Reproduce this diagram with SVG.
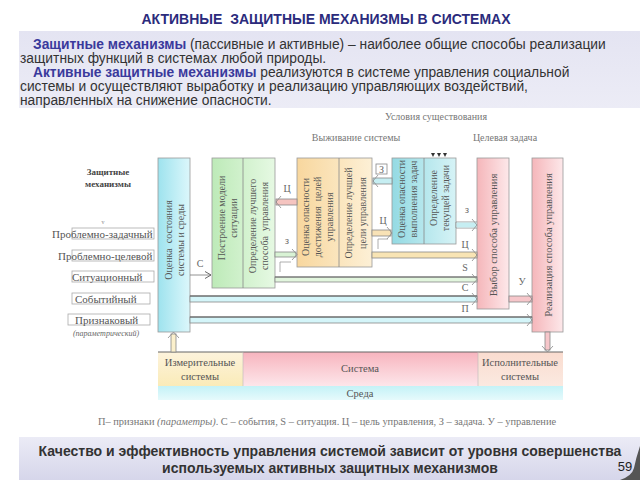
<svg xmlns="http://www.w3.org/2000/svg" width="640" height="480" viewBox="0 0 640 480">
<defs>
<linearGradient id="gCyan" x1="0" y1="0" x2="1" y2="0"><stop offset="0" stop-color="#9ee3ee"/><stop offset="1" stop-color="#dcf7fb"/></linearGradient>
<linearGradient id="gGreen" x1="0" y1="0" x2="1" y2="0"><stop offset="0" stop-color="#bdeab8"/><stop offset="1" stop-color="#e6f9e3"/></linearGradient>
<linearGradient id="gOrange" x1="0" y1="0" x2="1" y2="0"><stop offset="0" stop-color="#f8d79e"/><stop offset="1" stop-color="#fdf0d6"/></linearGradient>
<linearGradient id="gCyan2" x1="0" y1="0" x2="1" y2="0"><stop offset="0" stop-color="#94dae3"/><stop offset="1" stop-color="#d6f3f6"/></linearGradient>
<linearGradient id="gPink" x1="0" y1="0" x2="1" y2="0"><stop offset="0" stop-color="#f5b6ba"/><stop offset="1" stop-color="#fde8ea"/></linearGradient>
<linearGradient id="gYel" x1="0" y1="0" x2="0" y2="1"><stop offset="0" stop-color="#fdf3dc"/><stop offset="1" stop-color="#faebb8"/></linearGradient>
<linearGradient id="gSys" x1="0" y1="0" x2="0" y2="1"><stop offset="0" stop-color="#f7b4be"/><stop offset="1" stop-color="#fde6ea"/></linearGradient>
<linearGradient id="gIsp" x1="0" y1="0" x2="0" y2="1"><stop offset="0" stop-color="#fadccf"/><stop offset="1" stop-color="#fbe9e0"/></linearGradient>
<linearGradient id="gEnv" x1="0" y1="0" x2="0" y2="1"><stop offset="0" stop-color="#c4f2f7"/><stop offset="1" stop-color="#e6fafc"/></linearGradient>
<linearGradient id="gTop" x1="0" y1="0" x2="0" y2="1"><stop offset="0" stop-color="#e4e4f2"/><stop offset="1" stop-color="#ececf6"/></linearGradient>
<linearGradient id="gBot" x1="0" y1="0" x2="0" y2="1"><stop offset="0" stop-color="#ebebf6"/><stop offset="1" stop-color="#d6d6ea"/></linearGradient>
<marker id="ah" viewBox="0 0 8 8" refX="7" refY="4" markerWidth="8" markerHeight="8" markerUnits="userSpaceOnUse" orient="auto">
<path d="M1,0.5 L7,4 L1,7.5" fill="none" stroke="#666" stroke-width="1"/>
</marker>
</defs>
<style>
.title{font-family:"Liberation Sans",Arial,sans-serif;font-weight:bold;font-size:14px;fill:#2b2b7c}
.para{font-family:"Liberation Sans",Arial,sans-serif;font-size:13.8px;fill:#333}
.em{fill:#3a3a9c;font-weight:bold}
.foot{font-family:"Liberation Sans",Arial,sans-serif;font-weight:bold;font-size:14px;fill:#333}
.vt{font-family:"Liberation Serif","Times New Roman",serif;font-size:10px;fill:#555}
.bt{font-family:"Liberation Serif","Times New Roman",serif;font-size:10.5px;fill:#555}
.sm{font-family:"Liberation Serif","Times New Roman",serif;font-size:10px;fill:#777}
.lst{font-family:"Liberation Serif","Times New Roman",serif;font-size:11px;fill:#555}
.box{stroke:#999;stroke-width:0.8}
.lb{fill:none;stroke:#aaa;stroke-width:0.8}
.lbl{font-family:"Liberation Serif","Times New Roman",serif;font-size:10px;fill:#666;text-anchor:middle}
.pipe{stroke:#888;stroke-width:0.8}
</style>
<rect width="640" height="480" fill="#fff"/>

<text class="title" x="326" y="24" text-anchor="middle" xml:space="preserve">АКТИВНЫЕ  ЗАЩИТНЫЕ МЕХАНИЗМЫ В СИСТЕМАХ</text>

<g id="intro">
<rect x="19" y="31" width="621" height="77" fill="url(#gTop)"/>
<text class="para" x="33" y="49"><tspan class="em">Защитные механизмы</tspan> (пассивные и активные) – наиболее общие способы реализации</text>
<text class="para" x="20" y="63">защитных функций в системах любой природы.</text>
<text class="para" x="33" y="77"><tspan class="em">Активные защитные механизмы</tspan> реализуются в системе управления социальной</text>
<text class="para" x="20" y="91">системы и осуществляют выработку и реализацию управляющих воздействий,</text>
<text class="para" x="20" y="105">направленных на снижение опасности.</text>
</g>

<g id="headers">
<text class="sm" x="436" y="120" text-anchor="middle">Условия существования</text>
<text class="sm" x="356" y="141" text-anchor="middle">Выживание системы</text>
<text class="sm" x="505" y="141" text-anchor="middle">Целевая задача</text>
</g>

<g id="mechanisms">
<text x="108" y="175" text-anchor="middle" style="font-family:'Liberation Serif',serif;font-size:9px;font-weight:bold;fill:#444">Защитные</text>
<text x="108" y="187" text-anchor="middle" style="font-family:'Liberation Serif',serif;font-size:9px;font-weight:bold;fill:#444">механизмы</text>
<text x="103" y="224" text-anchor="middle" style="font-family:'Liberation Serif',serif;font-size:6px;fill:#888">v</text>
<rect class="lb" x="72" y="228" width="82" height="11"/>
<text class="lst" x="52" y="238">Проблемно-задачный</text>
<rect class="lb" x="72" y="250" width="82" height="11"/>
<text class="lst" x="58" y="260">Проблемно-целевой</text>
<rect class="lb" x="72" y="271" width="82" height="11"/>
<text class="lst" x="72" y="281">Ситуационный</text>
<rect class="lb" x="72" y="293" width="78" height="11"/>
<text class="lst" x="75" y="303">Событийный</text>
<rect class="lb" x="68" y="314" width="82" height="11"/>
<text class="lst" x="75" y="324">Признаковый</text>
<text x="106" y="336" text-anchor="middle" style="font-family:'Liberation Serif',serif;font-size:8px;font-style:italic;fill:#666">(параметрический)</text>
</g>

<g id="n-ocenka-sost">
<rect class="box" x="158" y="158" width="32" height="174" fill="url(#gCyan)"/>
<text class="vt" transform="translate(174,240) rotate(-90)" text-anchor="middle" xml:space="preserve"><tspan x="0" y="-2">Оценка  состояния</tspan><tspan x="0" y="10">системы и среды</tspan></text>
</g>

<g id="n-model">
<rect class="box" x="212" y="158" width="63" height="130" fill="url(#gGreen)"/>
<line x1="243" y1="158" x2="243" y2="288" stroke="#888" stroke-width="0.8"/>
<text class="vt" transform="translate(227.5,218) rotate(-90)" text-anchor="middle"><tspan x="0" y="-3">Построение модели</tspan><tspan x="0" y="9">ситуации</tspan></text>
<text class="vt" transform="translate(259,226) rotate(-90)" text-anchor="middle" xml:space="preserve"><tspan x="0" y="-3">Определение лучшего</tspan><tspan x="0" y="9">способа  управления</tspan></text>
</g>

<g id="n-cel">
<rect class="box" x="297" y="158" width="75" height="109" fill="url(#gOrange)"/>
<line x1="339" y1="158" x2="339" y2="267" stroke="#888" stroke-width="0.8"/>
<text class="vt" transform="translate(318,217) rotate(-90)" text-anchor="middle" xml:space="preserve"><tspan x="0" y="-9">Оценка опасности</tspan><tspan x="0" y="3">достижения  целей</tspan><tspan x="0" y="15">управления</tspan></text>
<text class="vt" transform="translate(355.5,213) rotate(-90)" text-anchor="middle"><tspan x="0" y="-4">Определение лучшей</tspan><tspan x="0" y="10">цели управления</tspan></text>
</g>

<g id="n-zadacha">
<rect class="box" x="392" y="158" width="64" height="86" fill="url(#gCyan2)"/>
<line x1="424" y1="158" x2="424" y2="244" stroke="#888" stroke-width="0.8"/>
<text class="vt" transform="translate(407.5,199) rotate(-90)" text-anchor="middle"><tspan x="0" y="-3">Оценка опасности</tspan><tspan x="0" y="9">выполнения задач</tspan></text>
<text class="vt" transform="translate(440,198) rotate(-90)" text-anchor="middle"><tspan x="0" y="-3">Определение</tspan><tspan x="0" y="9">текущей задачи</tspan></text>
<path d="M431,153 h4 l-2,4 z M437,153 h4 l-2,4 z M443,153 h4 l-2,4 z" fill="#333"/>
</g>

<g id="n-vybor">
<rect class="box" x="477" y="158" width="32" height="151" fill="url(#gPink)"/>
<text class="bt" transform="translate(493,235) rotate(-90)" text-anchor="middle"><tspan x="0" y="4">Выбор способа управления</tspan></text>
</g>

<g id="n-realiz">
<rect class="box" x="532" y="158" width="31" height="174" fill="url(#gPink)"/>
<text class="bt" transform="translate(547.5,245) rotate(-90)" text-anchor="middle"><tspan x="0" y="4">Реализация способа управления</tspan></text>
</g>

<g id="n-bottom">
<rect x="158" y="352" width="85" height="34" fill="url(#gYel)"/>
<rect x="243" y="352" width="235" height="34" fill="url(#gSys)"/>
<rect x="478" y="352" width="85" height="34" fill="url(#gIsp)"/>
<rect x="158" y="386" width="405" height="14" fill="url(#gEnv)"/>
<line x1="158" y1="352" x2="563" y2="352" stroke="#666" stroke-width="1.2"/>
<line x1="243" y1="352" x2="243" y2="386" stroke="#bbb" stroke-width="0.6"/>
<line x1="478" y1="352" x2="478" y2="386" stroke="#bbb" stroke-width="0.6"/>
<text class="bt" x="200" y="366" text-anchor="middle">Измерительные</text>
<text class="bt" x="200" y="380" text-anchor="middle">системы</text>
<text class="bt" x="360" y="372" text-anchor="middle">Система</text>
<text class="bt" x="520" y="366" text-anchor="middle">Исполнительные</text>
<text class="bt" x="520" y="380" text-anchor="middle">системы</text>
<text class="bt" x="360" y="397" text-anchor="middle">Среда</text>
</g>

<g id="connectors">
<line x1="190" y1="275" x2="211" y2="275" stroke="#777" stroke-width="0.8" marker-end="url(#ah)"/>
<text class="lbl" x="200" y="267">С</text>
<rect x="276" y="199" width="21" height="6" fill="#f5c4c0" class="pipe"/>
<path d="M281,196 L276,202 L281,208" fill="none" stroke="#888" stroke-width="0.8"/>
<text class="lbl" x="287" y="192">Ц</text>
<rect x="275" y="252" width="21" height="5" fill="#d8f2d4" class="pipe"/>
<path d="M292,249 L297,254.5 L292,260" fill="none" stroke="#888" stroke-width="0.8"/>
<text class="lbl" x="287" y="244">з</text>
<path d="M291,262 H280 V272" fill="none" stroke="#999" stroke-width="0.8"/>
<rect x="373" y="178" width="19" height="6" fill="#c6eef2" class="pipe"/>
<path d="M378,175 L373,181 L378,187" fill="none" stroke="#888" stroke-width="0.8"/>
<rect x="376" y="164" width="11" height="10" fill="#fff" stroke="#888" stroke-width="0.8"/>
<text class="lbl" x="381.5" y="172.5">З</text>
<rect x="372" y="230" width="19" height="6" fill="#f8e2b6" class="pipe"/>
<path d="M387,227 L392,233 L387,239" fill="none" stroke="#888" stroke-width="0.8"/>
<text class="lbl" x="383" y="224">Ц</text>
<path d="M388,239 H378 V249" fill="none" stroke="#999" stroke-width="0.8"/>
<path d="M456,222 H477 M456,228 H477 M456,222 V228" fill="none" stroke="#888" stroke-width="0.8"/>
<rect x="456.5" y="222.5" width="20" height="5" fill="#c6eef2"/>
<path d="M472,219 L477,225 L472,231" fill="none" stroke="#888" stroke-width="0.8"/>
<text class="lbl" x="467" y="213">з</text>
<rect x="372" y="252" width="105" height="6" fill="#f8e4b4" class="pipe"/>
<path d="M472,249 L477,255 L472,261" fill="none" stroke="#888" stroke-width="0.8"/>
<text class="lbl" x="465" y="248">Ц</text>
<rect x="275" y="277" width="202" height="5" fill="#e2f6de" class="pipe"/>
<line x1="275" y1="277" x2="477" y2="277" stroke="#666" stroke-width="1"/>
<path d="M472,274 L477,279.5 L472,285" fill="none" stroke="#888" stroke-width="0.8"/>
<text class="lbl" x="465" y="271">S</text>
<rect x="190" y="296" width="287" height="6" fill="#d4f5f9" class="pipe"/>
<line x1="190" y1="296" x2="477" y2="296" stroke="#555" stroke-width="1.2"/>
<path d="M472,293 L477,299 L472,305" fill="none" stroke="#888" stroke-width="0.8"/>
<text class="lbl" x="465" y="291">С</text>
<rect x="509" y="296" width="23" height="6" fill="#f6c6ca" class="pipe"/>
<path d="M527,293 L532,299 L527,305" fill="none" stroke="#888" stroke-width="0.8"/>
<text class="lbl" x="522" y="285">У</text>
<rect x="190" y="317" width="342" height="6" fill="#d4f5f9" class="pipe"/>
<line x1="190" y1="317" x2="532" y2="317" stroke="#555" stroke-width="1.2"/>
<path d="M527,314 L532,320 L527,326" fill="none" stroke="#888" stroke-width="0.8"/>
<text class="lbl" x="465" y="312">П</text>
<rect x="171" y="334" width="5" height="18" fill="#fbf0cc" class="pipe"/>
<path d="M168,338 L173.5,332 L179,338" fill="none" stroke="#888" stroke-width="0.8"/>
<rect x="545" y="332" width="5" height="18" fill="#f6c6ca" class="pipe"/>
<path d="M542,346 L547.5,352 L553,346" fill="none" stroke="#888" stroke-width="0.8"/>
</g>

<text x="98" y="425" style="font-family:'Liberation Serif',serif;font-size:10.4px;fill:#777">П– признаки <tspan font-style="italic">(параметры)</tspan>. С – события, S – ситуация. Ц – цель управления, З – задача. У – управление</text>

<g id="footer">
<rect x="19" y="437" width="621" height="43" fill="url(#gBot)"/>
<path d="M640,446 L640,480 L620,480 Q632,476 634,468 Q636,458 640,446 Z" fill="#555"/>
<text class="foot" x="330" y="456" text-anchor="middle">Качество и эффективность управления системой зависит от уровня совершенства</text>
<text class="foot" x="330" y="473" text-anchor="middle">используемых активных защитных механизмов</text>
<text x="625" y="471" text-anchor="middle" style="font-family:'Liberation Sans',Arial,sans-serif;font-size:13px;fill:#222">59</text>
</g>
</svg>
